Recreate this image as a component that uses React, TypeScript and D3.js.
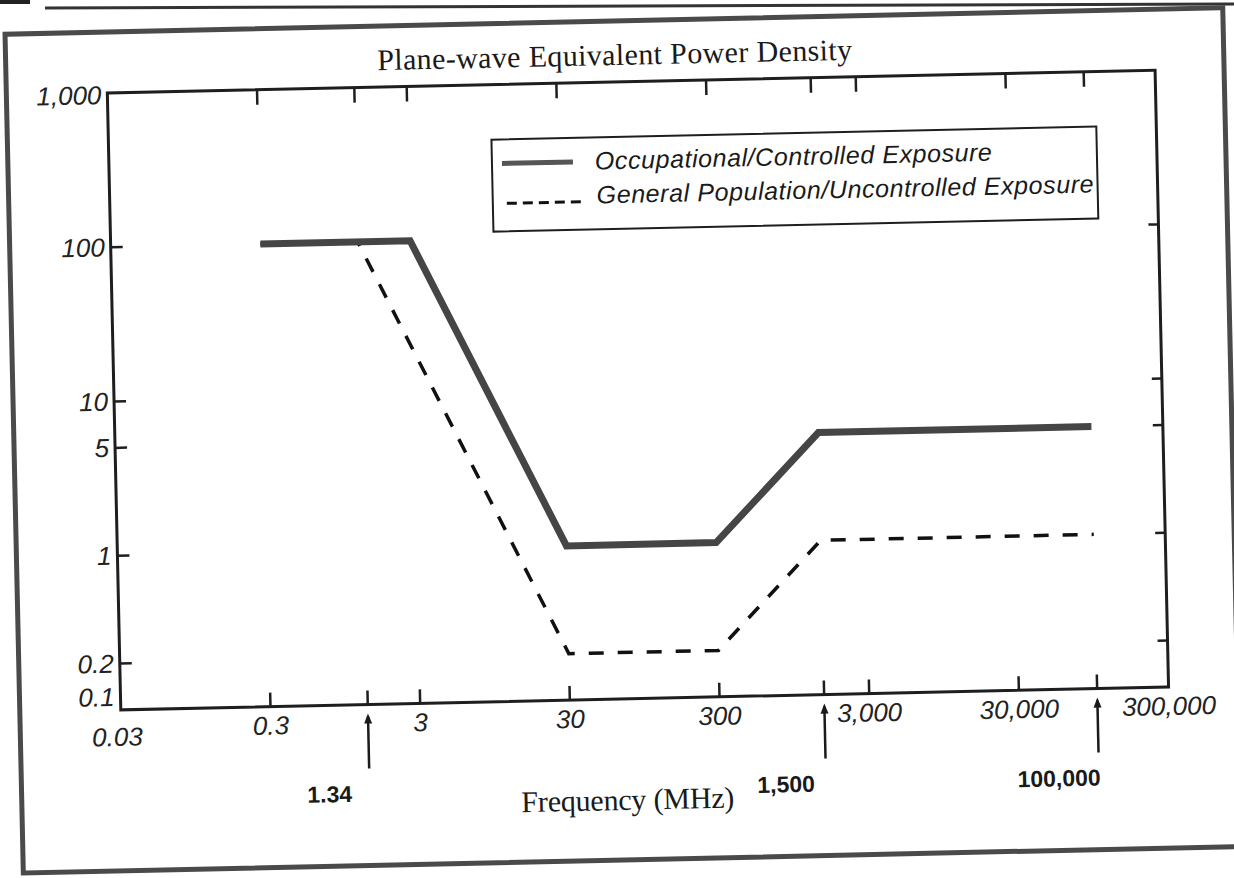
import * as d3 from "d3";

// FCC MPE limits, plane-wave equivalent power density (mW/cm²) vs frequency (MHz)
const occFreq = [0.3, 3, 30, 300, 1500, 100000];
const occDensity = [100, 100, 1, 1, 5, 5];
const genFreq = [0.3, 1.34, 30, 300, 1500, 100000];
const genDensity = [100, 100, 0.2, 0.2, 1, 1];

const xTicks = [0.3, 1.34, 3, 30, 300, 1500, 3000, 30000, 100000];
const xLabelValues = [0.03, 0.3, 3, 30, 300, 3000, 30000, 300000];
const xLabelText = ["0.03", "0.3", "3", "30", "300", "3,000", "30,000", "300,000"];
const yTicks = [100, 10, 5, 1, 0.2];
const yLabelValues = [1000, 100, 10, 5, 1, 0.2, 0.1];
const yLabelText = ["1,000", "100", "10", "5", "1", "0.2", "0.1"];
const arrowFreqs = [1.34, 1500, 100000];
const arrowText = ["1.34", "1,500", "100,000"];

const W = 1234;
const H = 878;
const M = { left: 115, top: 82, right: 71, bottom: 179 };
const SANS = "'Liberation Sans', Arial, sans-serif";
const SERIF = "'Liberation Serif', 'Times New Roman', serif";

export default function App() {
  const x = d3.scaleLog().domain([0.03, 300000]).range([M.left, W - M.right]);
  const y = d3.scaleLog().domain([0.1, 1000]).range([H - M.bottom, M.top]);
  const [xl, xr] = x.range();
  const [yb, yt] = y.range();

  const line = d3
    .line<[number, number]>()
    .x((d) => x(d[0]))
    .y((d) => y(d[1]));
  const occPath = line(d3.zip(occFreq, occDensity) as [number, number][]) || "";
  const genPath = line(d3.zip(genFreq, genDensity) as [number, number][]) || "";

  const legendX = 498;
  const legendY = 137;

  return (
    <div style={{ position: "absolute", left: 0, top: 0 }}>
      <svg width={W} height={H} style={{ display: "block", background: "#fff" }}>
        {/* scan remnant at the top edge */}
        <rect x={0} y={0} width={30} height={4} fill="#222" />
        <line x1={45} x2={W} y1={8} y2={4} stroke="#333" strokeWidth={3} />

        <g transform={`rotate(-1.25, ${W / 2}, ${H / 2})`}>
          {/* outer frame */}
          <rect x={14} y={21} width={1218} height={839} fill="none" stroke="#4a4a4a" strokeWidth={5} />

          {/* title */}
          <text
            x={623}
            y={65}
            textAnchor="middle"
            fontFamily={SERIF}
            fontSize={30}
            fill="#1a1a1a"
            textLength={475}
            lengthAdjust="spacing"
          >
            Plane-wave Equivalent Power Density
          </text>

          {/* plot frame */}
          <rect x={xl} y={yt} width={xr - xl} height={yb - yt} fill="none" stroke="#1e1e1e" strokeWidth={3} />

          {/* top & bottom ticks */}
          {xTicks.map((t, i) => (
            <g key={i} stroke="#1e1e1e" strokeWidth={2.5}>
              <line x1={x(t)} x2={x(t)} y1={yt} y2={yt + 15} />
              <line x1={x(t)} x2={x(t)} y1={yb} y2={yb - 14} />
            </g>
          ))}

          {/* left & right ticks */}
          {yTicks.map((t, i) => (
            <g key={i} stroke="#1e1e1e" strokeWidth={2.5}>
              <line x1={xl} x2={xl + 12} y1={y(t)} y2={y(t)} />
              <line x1={xr} x2={xr - 10} y1={y(t)} y2={y(t)} />
            </g>
          ))}

          {/* y labels */}
          {yLabelValues.map((v, i) => (
            <text
              key={i}
              x={xl - 6}
              y={y(v) + (v === 0.1 ? -13 : v === 1000 ? 2 : 0)}
              textAnchor="end"
              dominantBaseline="central"
              fontFamily={SANS}
              fontStyle="italic"
              fontSize={26}
              fill="#222"
            >
              {yLabelText[i]}
            </text>
          ))}

          {/* x labels */}
          {xLabelValues.map((v, i) => (
            <text
              key={i}
              x={x(v) + (i === 0 ? -4 : 0)}
              y={yb + 19 + (i === 0 ? 8 : 0)}
              textAnchor="middle"
              dominantBaseline="central"
              fontFamily={SANS}
              fontStyle="italic"
              fontSize={26}
              fill="#222"
            >
              {xLabelText[i]}
            </text>
          ))}

          {/* curves */}
          <path d={genPath} fill="none" stroke="#111" strokeWidth={3.5} strokeDasharray="15 14" />
          <path d={occPath} fill="none" stroke="#454545" strokeWidth={7} strokeLinejoin="miter" />

          {/* legend */}
          <rect x={legendX} y={legendY} width={605} height={92} fill="#fff" stroke="#1e1e1e" strokeWidth={2} />
          <line x1={legendX + 10} x2={legendX + 81} y1={legendY + 24} y2={legendY + 24} stroke="#555" strokeWidth={5} />
          <text
            x={legendX + 103}
            y={legendY + 32}
            fontFamily={SANS}
            fontStyle="italic"
            fontSize={25}
            fill="#1a1a1a"
            textLength={397}
            lengthAdjust="spacing"
          >
            Occupational/Controlled Exposure
          </text>
          <line
            x1={legendX + 14}
            x2={legendX + 88}
            y1={legendY + 64}
            y2={legendY + 64}
            stroke="#111"
            strokeWidth={3}
            strokeDasharray="10 6"
          />
          <text
            x={legendX + 104}
            y={legendY + 66}
            fontFamily={SANS}
            fontStyle="italic"
            fontSize={25}
            fill="#1a1a1a"
            textLength={497}
            lengthAdjust="spacing"
          >
            General Population/Uncontrolled Exposure
          </text>

          {/* arrows marking break frequencies */}
          {arrowFreqs.map((f, i) => (
            <g key={i}>
              <line x1={x(f)} x2={x(f)} y1={yb + 12} y2={yb + 64} stroke="#1a1a1a" strokeWidth={2.5} />
              <path
                d={`M${x(f) - 4},${yb + 19} L${x(f)},${yb + 9} L${x(f) + 4},${yb + 19} Z`}
                fill="#1a1a1a"
              />
              <text
                x={x(f) - 40}
                y={yb + 97}
                textAnchor="middle"
                fontFamily={SANS}
                fontWeight="bold"
                fontSize={23}
                fill="#1a1a1a"
              >
                {arrowText[i]}
              </text>
            </g>
          ))}

          {/* x axis title */}
          <text
            x={620}
            y={810}
            textAnchor="middle"
            fontFamily={SERIF}
            fontSize={30}
            fill="#1a1a1a"
            textLength={213}
            lengthAdjust="spacing"
          >
            Frequency (MHz)
          </text>
        </g>
      </svg>
    </div>
  );
}
